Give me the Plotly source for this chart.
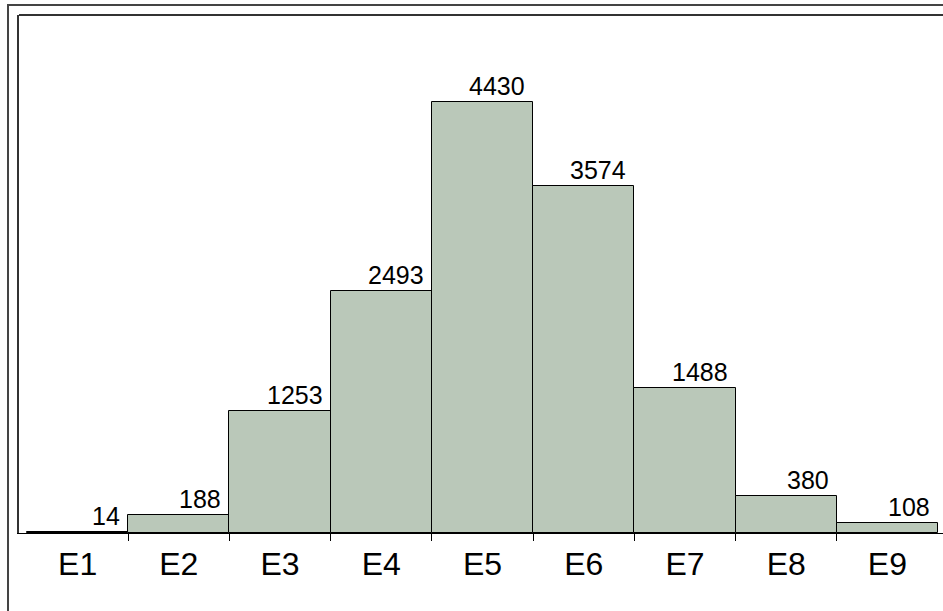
import plotly.graph_objects as go

categories = ["E1", "E2", "E3", "E4", "E5", "E6", "E7", "E8", "E9"]
counts = [14, 188, 1253, 2493, 4430, 3574, 1488, 380, 108]

positions = list(range(len(categories)))
boundaries = [i + 0.5 for i in positions[:-1]]

FONT = "Arial, Liberation Sans, sans-serif"

fig = go.Figure()
fig.add_trace(go.Bar(
    x=positions,
    y=counts,
    width=1,
    marker=dict(color="#BAC8B9", line=dict(color="black", width=1)),
    hoverinfo="x+y",
))

for p, v in zip(positions, counts):
    fig.add_annotation(
        x=p + 0.5, y=v, text=str(v), showarrow=False,
        xanchor="right", yanchor="bottom", xshift=-6, yshift=0,
        font=dict(family=FONT, size=25, color="black"),
    )

fig.update_layout(
    width=943, height=611,
    margin=dict(l=19, r=0, t=15, b=78),
    paper_bgcolor="white", plot_bgcolor="white",
    showlegend=False,
    bargap=0,
    xaxis=dict(
        range=[-0.579, 8.549],
        tickmode="array", tickvals=positions, ticktext=categories,
        ticks="", showgrid=False, zeroline=False,
        showline=True, linecolor="black", linewidth=1,
        ticklabelstandoff=3,
        tickfont=dict(family=FONT, size=32, color="black"),
        minor=dict(tickmode="array", tickvals=boundaries, ticks="outside",
                   ticklen=7, tickcolor="black", tickwidth=1, showgrid=False),
    ),
    yaxis=dict(
        range=[0, 5328], showticklabels=False, ticks="", showgrid=False,
        zeroline=False, showline=True, linecolor="#333333", linewidth=2,
    ),
    shapes=[
        dict(type="line", xref="paper", yref="paper", x0=0, x1=1.02, y0=1, y1=1,
             line=dict(color="#333333", width=2)),
        dict(type="rect", xref="paper", yref="paper",
             x0=-0.0119, x1=1.05, y0=-0.3, y1=1.0193,
             line=dict(color="#444444", width=2)),
    ],
)

fig.write_html(
    "out.html",
    config={"displayModeBar": False},
    post_script="document.body.style.margin='0';document.body.style.overflow='hidden';",
)
